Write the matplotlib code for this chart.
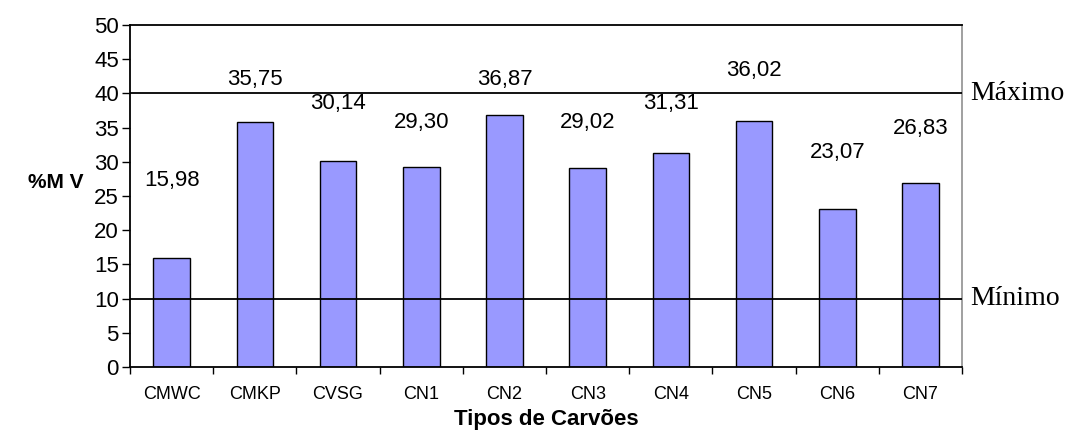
import matplotlib

matplotlib.use("Agg")
import matplotlib.pyplot as plt  # noqa: E402

categories = ["CMWC", "CMKP", "CVSG", "CN1", "CN2", "CN3", "CN4", "CN5", "CN6", "CN7"]
mv_values = [15.98, 35.75, 30.14, 29.30, 36.87, 29.02, 31.31, 36.02, 23.07, 26.83]
# where the value labels sit (data units), as placed in the original
label_heights = [27.3, 42.0, 38.5, 35.7, 42.0, 35.7, 38.5, 43.4, 31.3, 34.9]
limit_max = 40
limit_min = 10

sans = ["Liberation Sans", "DejaVu Sans"]
narrow = ["Liberation Sans Narrow", "Liberation Sans", "DejaVu Sans"]
serif = ["Liberation Serif", "DejaVu Serif"]

fig = plt.figure(figsize=(10.81, 4.30), dpi=100)
ax = fig.add_axes([0.1203, 0.1465, 0.7697, 0.7954])

xs = list(range(len(categories)))
ax.bar(xs, mv_values, width=0.44, color="#9999ff", edgecolor="black", linewidth=1.0, zorder=2)

for x, v, h in zip(xs, mv_values, label_heights):
    ax.text(x, h, f"{v:.2f}".replace(".", ","), ha="center", va="center",
            fontsize=16, family=sans, zorder=4)

ax.axhline(limit_max, color="black", linewidth=1.3, zorder=3)
ax.axhline(limit_min, color="black", linewidth=1.3, zorder=3)
ax.text(1.01, limit_max, "Máximo", transform=ax.get_yaxis_transform(),
        ha="left", va="center", fontsize=20, family=serif)
ax.text(1.01, limit_min, "Mínimo", transform=ax.get_yaxis_transform(),
        ha="left", va="center", fontsize=20, family=serif)

ax.set_xlim(-0.5, len(categories) - 0.5)
ax.set_ylim(0, 50)
ax.set_yticks(range(0, 51, 5))
ax.set_yticklabels([str(t) for t in range(0, 51, 5)], family=sans, fontsize=16)
ax.set_xticks(xs)
ax.set_xticklabels(categories, family=narrow, fontsize=13)
ax.set_xticks([x - 0.5 for x in range(len(categories) + 1)], minor=True)
ax.tick_params(axis="x", which="major", length=0, pad=14)
ax.tick_params(axis="x", which="minor", length=5, width=1, direction="out")
ax.tick_params(axis="y", length=6, width=1, direction="out", pad=2)

for side in ("left", "bottom", "top"):
    ax.spines[side].set_color("black")
    ax.spines[side].set_linewidth(1.3)
ax.spines["right"].set_color("#999999")
ax.spines["right"].set_linewidth(1.3)

ax.set_xlabel("Tipos de Carvões", family=sans, fontsize=16, fontweight="bold", labelpad=4)
ax.text(-0.056, 27.0, "%M V", transform=ax.get_yaxis_transform(), ha="right", va="center",
        family=sans, fontsize=15, fontweight="bold")

fig.savefig("out.png", dpi=100)
plt.close(fig)
